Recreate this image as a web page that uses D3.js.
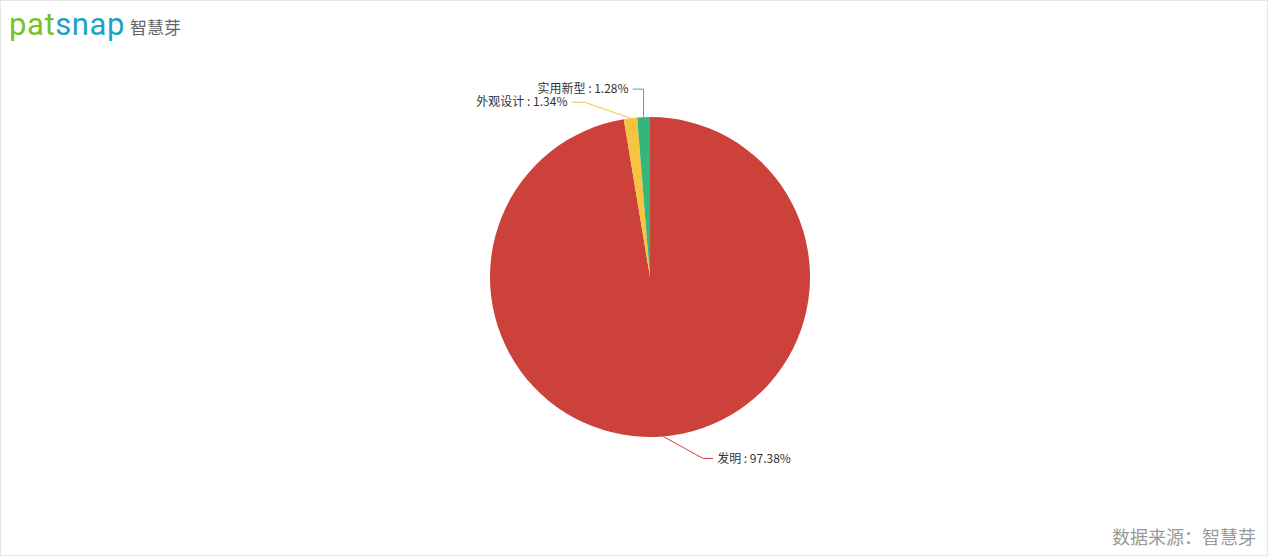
<!DOCTYPE html>
<html><head><meta charset="utf-8">
<script src="https://cdn.jsdelivr.net/npm/d3@7"></script>
<style>body{margin:0;background:#fff;font-family:"PingFang SC","Noto Sans CJK SC",sans-serif}</style>
</head><body>
<svg id="c" width="1268" height="556"></svg>
<script>
const categories = ["发明", "外观设计", "实用新型"];
const values = [97.38, 1.34, 1.28];
const colors = ["#cc4139", "#f8c440", "#35b47c"];
// label leader geometry (elbow offsets relative to arc anchor)
const labelLayout = [
  {dx1: 40, dy1: 22, dx2: 10, side: 1},
  {dx1: -46, dy1: -16, dx2: -13, side: -1},
  {dx1: 0, dy1: -28, dx2: -11, side: -1}
];

const svg = d3.select("#c");
svg.append("rect").attr("x",0.5).attr("y",0.5).attr("width",1267).attr("height",555)
  .attr("fill","#fff").attr("stroke","#e6e6e6");

// logo
const logo = svg.append("text").attr("x",9).attr("y",35).attr("font-family","Roboto, 'Open Sans', sans-serif")
  .attr("font-size",31).attr("letter-spacing",0.6);
logo.append("tspan").attr("fill","#78bf2d").text("pat");
logo.append("tspan").attr("fill","#1ba2c6").text("snap");
svg.append("text").attr("x",130).attr("y",34).attr("font-size",17).attr("fill","#666")
  .attr("font-family","'Noto Sans CJK SC', sans-serif").text("智慧芽");

const cx = 650, cy = 277, r = 160;
const g = svg.append("g").attr("transform",`translate(${cx},${cy})`);
const pie = d3.pie().sort(null).value(d=>d.v);
const arcs = pie(categories.map((c,i)=>({c, v: values[i], i})));
const arc = d3.arc().innerRadius(0).outerRadius(r);
g.selectAll("path.s").data(arcs).join("path").attr("class","s")
  .attr("d",arc).attr("fill",(d)=>colors[d.data.i]);

const outer = d3.arc().innerRadius(r).outerRadius(r);
arcs.forEach(d=>{
  const L = labelLayout[d.data.i];
  const [x0,y0] = outer.centroid(d);
  const x1 = x0+L.dx1, y1 = y0+L.dy1, x2 = x1+L.dx2;
  g.append("polyline").attr("points",`${x0},${y0} ${x1},${y1} ${x2},${y1}`)
    .attr("fill","none").attr("stroke",colors[d.data.i]).attr("stroke-width",1);
  g.append("text").attr("x", x2 + L.side*4).attr("y", y1).attr("dy","0.35em")
    .attr("text-anchor", L.side>0 ? "start":"end")
    .attr("font-size",12).attr("fill","#333")
    .text(`${d.data.c} : ${d.data.v.toFixed(2)}%`);
});

svg.append("text").attr("x",1256).attr("y",544).attr("text-anchor","end")
  .attr("font-size",18).attr("fill","#999").text("数据来源：智慧芽");
</script>
</body></html>
